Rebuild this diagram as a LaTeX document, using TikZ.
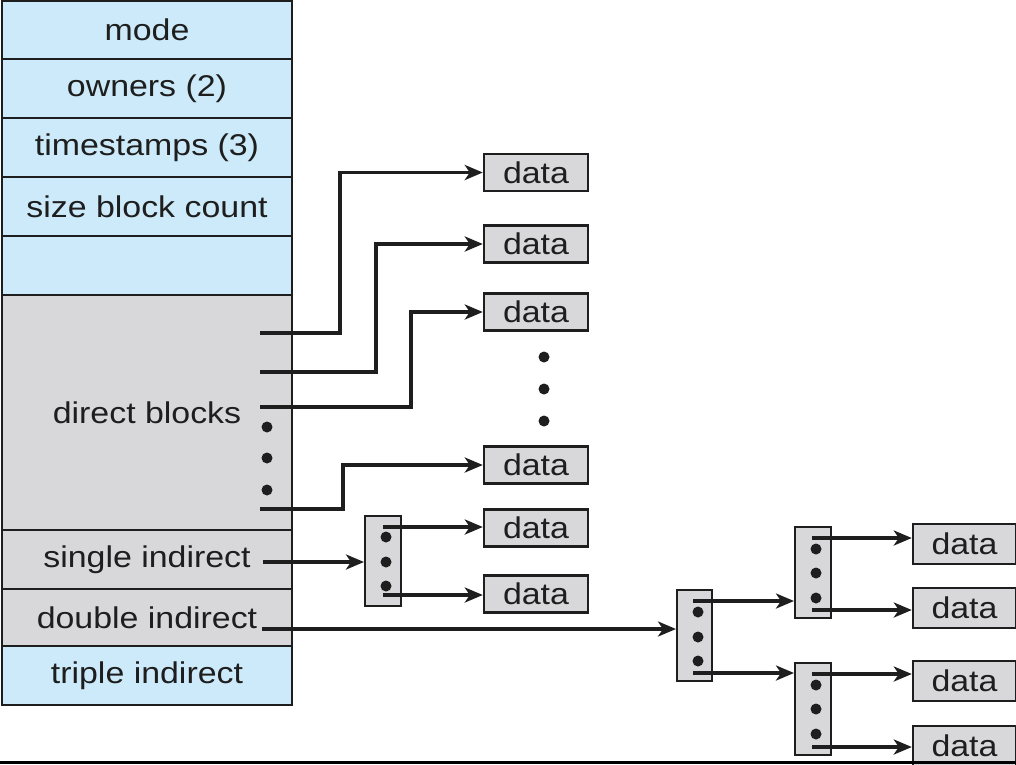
\documentclass[tikz,border=0pt]{standalone}
\usepackage{fontspec}
\setmainfont{Liberation Sans}[FakeStretch=1.13]
\usetikzlibrary{arrows.meta}
\definecolor{cblue}{RGB}{204,234,249}
\definecolor{cgray}{RGB}{216,216,218}
\definecolor{cline}{RGB}{30,30,30}
\begin{document}
\begin{tikzpicture}[x=1pt,y=-1pt,
  row/.style={draw=cline,line width=2.2pt,minimum width=290pt,inner sep=0pt,
    font=\fontsize{30}{34}\selectfont,text=cline},
  bluerow/.style={row,fill=cblue},
  grayrow/.style={row,fill=cgray},
  databox/.style={draw=cline,fill=cgray,line width=2.4pt,minimum width=104pt,
    minimum height=37pt,inner sep=0pt,font=\fontsize{30}{34}\selectfont,text=cline},
  bigdata/.style={databox,minimum width=103pt,minimum height=40pt},
  idx/.style={draw=cline,fill=cgray,line width=2pt,minimum width=36pt,
    minimum height=90pt,inner sep=0pt},
  link/.style={draw=cline,line width=3.4pt},
  ptr/.style={link,-{Stealth[length=18pt,width=15pt,inset=5pt]}},
  dot/.style={circle,fill=cline,minimum size=11pt,inner sep=0pt}
]
\clip (0,0) rectangle (1016,764);
\fill[white] (0,0) rectangle (1016,764);

% inode column
\node[bluerow,minimum height=58pt] (r1) at (147,30) {mode};
\node[bluerow,minimum height=59pt] (r2) at (147,88.5) {owners (2)};
\node[bluerow,minimum height=59pt] (r3) at (147,147.5) {timestamps (3)};
\node[bluerow,minimum height=59pt] (r4) at (147,206.5) {size block count};
\node[bluerow,minimum height=59pt] (r5) at (147,265.5) {};
\node[grayrow,minimum height=235pt] (r6) at (147,412.5) {direct blocks};
\node[grayrow,minimum height=59pt] (r7) at (147,559.5) {single indirect};
\node[grayrow,minimum height=57pt] (r8) at (147,617.5) {double indirect};
\node[bluerow,minimum height=59pt] (r9) at (147,675.5) {triple indirect};

% dots in direct blocks
\node[dot] (c1) at (267,427) {};
\node[dot] (c2) at (267,458) {};
\node[dot] (c3) at (267,490) {};

% data blocks
\node[databox] (d1) at (536,172.5) {data};
\node[databox] (d2) at (536,244) {data};
\node[databox] (d3) at (536,312) {data};
\node[dot] (v1) at (544,357) {};
\node[dot] (v2) at (544,389) {};
\node[dot] (v3) at (544,421) {};
\node[databox] (d4) at (536,465) {data};
\node[databox] (d5) at (536,528) {data};
\node[databox] (d6) at (536,594) {data};

\node[bigdata] (d7) at (964.5,544) {data};
\node[bigdata] (d8) at (964.5,608) {data};
\node[bigdata] (d9) at (964.5,681) {data};
\node[bigdata] (d10) at (964.5,746) {data};

% index blocks
\node[idx] (i1) at (383,561) {};
\node[dot] (e1) at (386,537) {};
\node[dot] (e2) at (386,562) {};
\node[dot] (e3) at (386,586) {};

\node[idx,minimum width=35pt,minimum height=91pt] (i2) at (694.5,635.5) {};
\node[dot] (f1) at (698,612) {};
\node[dot] (f2) at (698,637) {};
\node[dot] (f3) at (698,661) {};

\node[idx,minimum height=91pt] (i3) at (813,572.5) {};
\node[dot] (g1) at (816,549) {};
\node[dot] (g2) at (816,573) {};
\node[dot] (g3) at (816,598) {};

\node[idx,minimum height=92pt] (i4) at (813,709) {};
\node[dot] (h1) at (816,685) {};
\node[dot] (h2) at (816,709) {};
\node[dot] (h3) at (816,734) {};

% direct pointers
\coordinate (p1) at (260,333);
\coordinate (p2) at (260,372);
\coordinate (p3) at (260,407);
\coordinate (p4) at (260,509);
\draw[ptr] (p1) -- ++(80,0) |- (d1.west);
\draw[ptr] (p2) -- ++(116,0) |- (d2.west);
\draw[ptr] (p3) -- ++(151,0) |- (d3.west);
\draw[ptr] (p4) -- ++(83,0) |- (d4.west);

% single indirect
\coordinate (ps) at (263,562);
\draw[ptr] (ps) -- (ps -| i1.west);
\coordinate (q1) at (383,527);
\coordinate (q2) at (383,595);
\draw[ptr] (q1) -- (q1 -| d5.west);
\draw[ptr] (q2) -- (q2 -| d6.west);

% double indirect
\coordinate (pd) at (262,629);
\draw[ptr] (pd) -- (pd -| i2.west);
\coordinate (s1) at (693,601);
\coordinate (s2) at (693,673);
\draw[ptr] (s1) -- (s1 -| i3.west);
\draw[ptr] (s2) -- (s2 -| i4.west);
\coordinate (t1) at (812,538);
\coordinate (t2) at (812,610);
\coordinate (t3) at (812,674);
\coordinate (t4) at (812,747);
\draw[ptr] (t1) -- (t1 -| d7.west);
\draw[ptr] (t2) -- (t2 -| d8.west);
\draw[ptr] (t3) -- (t3 -| d9.west);
\draw[ptr] (t4) -- (t4 -| d10.west);

% bottom rule
\coordinate (bl) at (0,762.5);
\coordinate (br) at (1016,762.5);
\draw[draw=black,line width=3pt] (bl) -- (br);
\end{tikzpicture}
\end{document}
